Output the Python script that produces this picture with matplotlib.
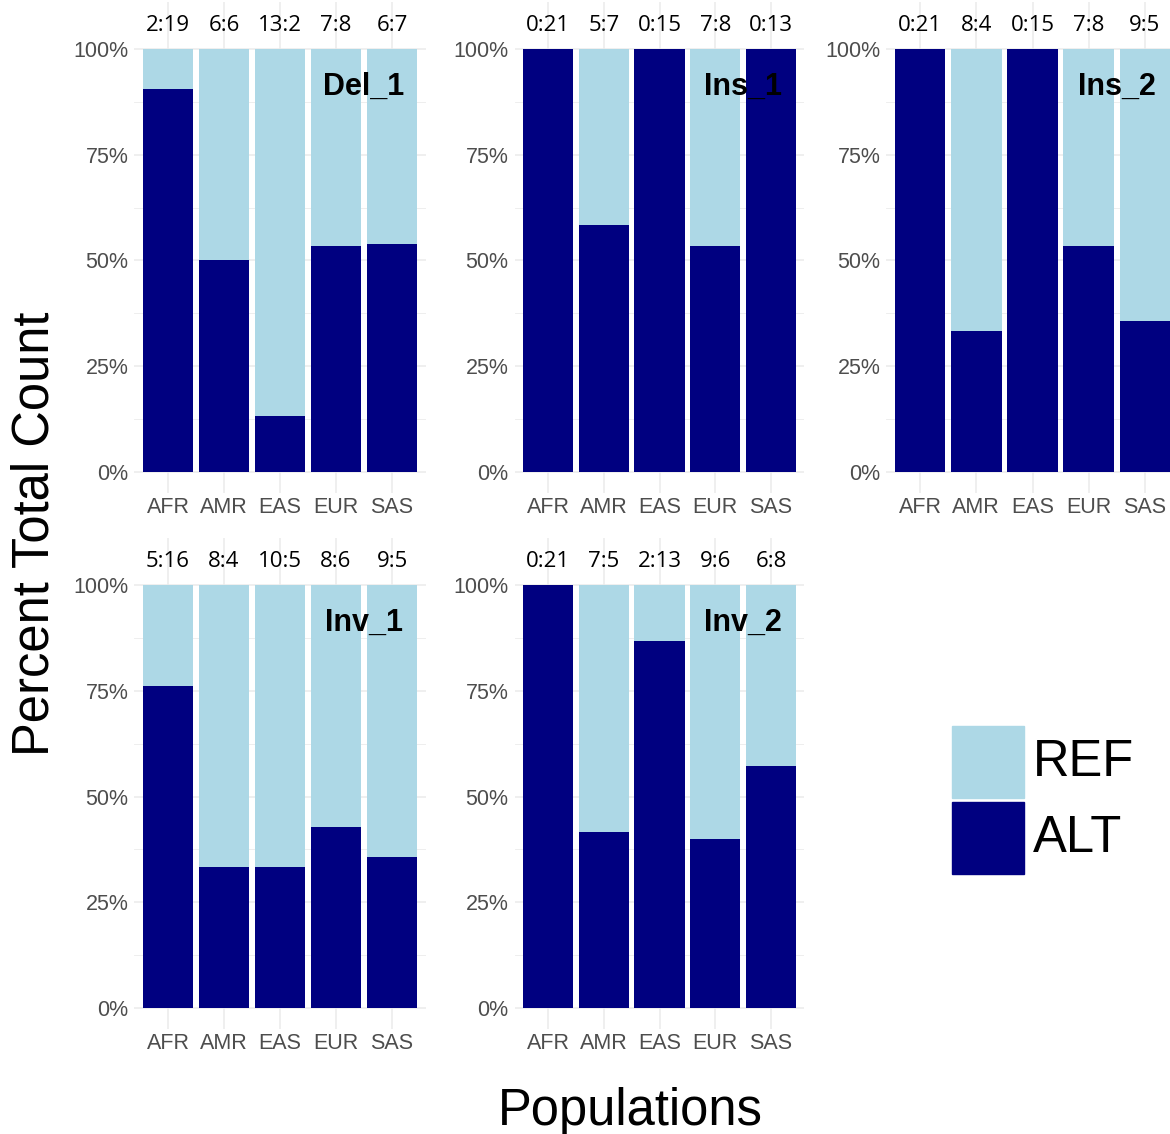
import matplotlib
matplotlib.use("Agg")
import matplotlib.pyplot as plt
from matplotlib.patches import Rectangle
import numpy as np

populations = ["AFR", "AMR", "EAS", "EUR", "SAS"]
variants = ["Del_1", "Ins_1", "Ins_2", "Inv_1", "Inv_2"]

# counts shown above bars as REF:ALT
del1_ref = [2, 6, 13, 7, 6]
del1_alt = [19, 6, 2, 8, 7]
ins1_ref = [0, 5, 0, 7, 0]
ins1_alt = [21, 7, 15, 8, 13]
ins2_ref = [0, 8, 0, 7, 9]
ins2_alt = [21, 4, 15, 8, 5]
inv1_ref = [5, 8, 10, 8, 9]
inv1_alt = [16, 4, 5, 6, 5]
inv2_ref = [0, 7, 2, 9, 6]
inv2_alt = [21, 5, 13, 6, 8]

ref_counts = [del1_ref, ins1_ref, ins2_ref, inv1_ref, inv2_ref]
alt_counts = [del1_alt, ins1_alt, ins2_alt, inv1_alt, inv2_alt]

REF_COL = "#ADD8E6"
ALT_COL = "#000080"
GRID_COL = "#EBEBEB"

W, H = 1170, 1134
fig = plt.figure(figsize=(W / 100, H / 100), dpi=100)

# panel layout in pixels: (AFR centre x, px per category, zero-line y)
col_x = [(168, 56.0), (548, 55.75), (920, 56.25)]
row_y0 = [472, 1008]
y_unit = 423
ylim = (-0.05, 1.11)
xlim = (0.4, 5.6)

for k, name in enumerate(variants):
    r, c = divmod(k, 3)
    cx, ux = col_x[c]
    left_px = cx - (1 - xlim[0]) * ux
    width_px = (xlim[1] - xlim[0]) * ux
    bottom_px = row_y0[r] - ylim[0] * y_unit
    height_px = (ylim[1] - ylim[0]) * y_unit
    ax = fig.add_axes([left_px / W, 1 - bottom_px / H, width_px / W, height_px / H])

    ref = np.array(ref_counts[k], dtype=float)
    alt = np.array(alt_counts[k], dtype=float)
    tot = ref + alt
    alt_frac = alt / tot
    ref_frac = ref / tot
    x = np.arange(1, len(populations) + 1)

    ax.bar(x, alt_frac, width=0.9, color=ALT_COL, zorder=2)
    ax.bar(x, ref_frac, bottom=alt_frac, width=0.9, color=REF_COL, zorder=2)

    for xi, rc, ac in zip(x, ref_counts[k], alt_counts[k]):
        ax.text(xi, 1.055, f"{rc}:{ac}", ha="center", va="center",
                fontsize=16, family=["Open Sans", "DejaVu Sans"], color="black")

    ax.text(4.5, 0.91, name, ha="center", va="center", fontsize=22,
            fontweight="bold", family="Liberation Sans", zorder=3)

    ax.set_xlim(*xlim)
    ax.set_ylim(*ylim)
    ax.set_xticks(x)
    ax.set_xticklabels(populations)
    ax.set_yticks([0, 0.25, 0.5, 0.75, 1.0])
    ax.set_yticklabels(["0%", "25%", "50%", "75%", "100%"])
    ax.set_yticks([0.125, 0.375, 0.625, 0.875], minor=True)
    ax.grid(which="major", color=GRID_COL, lw=1.1, zorder=0)
    ax.grid(which="minor", axis="y", color=GRID_COL, lw=0.6, zorder=0)
    ax.set_axisbelow(True)
    for s in ax.spines.values():
        s.set_visible(False)
    ax.tick_params(which="both", length=0, labelsize=15.5, labelcolor="#4D4D4D")
    ax.tick_params(axis="x", pad=3)
    ax.tick_params(axis="y", pad=4.3)
    for lab in ax.get_xticklabels() + ax.get_yticklabels():
        lab.set_family("Liberation Sans")

fig.text(35 / W, 1 - 534 / H, "Percent Total Count", rotation=90, ha="center",
         va="center", fontsize=36.5, family="Liberation Sans")
fig.text(630 / W, 1 - 1111 / H, "Populations", ha="center", va="center",
         fontsize=36.5, family="Liberation Sans")

# legend
for lab, col, top in [("REF", REF_COL, 726), ("ALT", ALT_COL, 802)]:
    fig.add_artist(Rectangle((952 / W, 1 - (top + 72) / H), 72 / W, 72 / H,
                             transform=fig.transFigure, color=col))
    fig.text(1033 / W, 1 - (top + 37) / H, lab, ha="left", va="center",
             fontsize=36.5, family="Liberation Sans")

fig.savefig("out.png", dpi=100)
